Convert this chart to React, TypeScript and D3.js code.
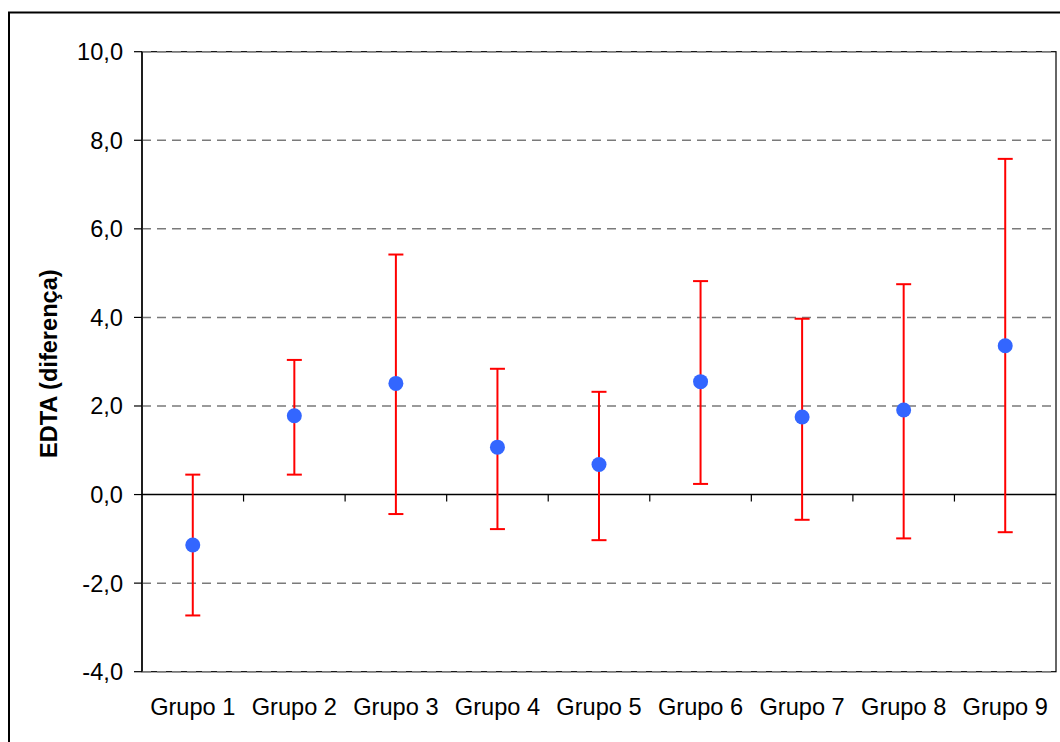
import React from "react";
import * as d3 from "d3";

// Group labels along the category axis
const categories = ["Grupo 1", "Grupo 2", "Grupo 3", "Grupo 4", "Grupo 5", "Grupo 6", "Grupo 7", "Grupo 8", "Grupo 9"];
// Mean difference per group
const means = [-1.14, 1.78, 2.51, 1.07, 0.68, 2.55, 1.75, 1.91, 3.36];
// Upper and lower limits of each interval
const upper = [0.45, 3.04, 5.42, 2.84, 2.32, 4.82, 3.97, 4.75, 7.58];
const lower = [-2.73, 0.45, -0.44, -0.78, -1.03, 0.24, -0.57, -0.99, -0.85];
// Value-axis ticks
const yTicks = [-4, -2, 0, 2, 4, 6, 8, 10];
const yTitle = "EDTA (diferença)";

const W = 1060;
const H = 742;
const plot = { left: 142, right: 1056, top: 51.7, bottom: 671.7 };
const FONT = "'Liberation Sans', Arial, Helvetica, sans-serif";
const FS = 23.6;

const locale = d3.formatLocale({
  decimal: ",",
  thousands: ".",
  grouping: [3],
  currency: ["", ""],
  minus: "-",
});
const fmt = locale.format(".1f");

export default function App() {
  const x = d3
    .scaleBand<string>()
    .domain(categories)
    .range([plot.left, plot.right])
    .paddingInner(0)
    .paddingOuter(0);
  const y = d3.scaleLinear().domain([-4, 10]).range([plot.bottom, plot.top]);
  const bw = x.bandwidth();
  const y0 = y(0);
  const cap = 7.5;

  return (
    <svg
      width={W}
      height={H}
      style={{ position: "absolute", left: 0, top: 0, background: "#fff" }}
    >
      {/* chart frame */}
      <rect x={9} y={12.5} width={1200} height={900} fill="#fff" stroke="#000" strokeWidth={2} />

      {/* plot area border */}
      <rect
        x={plot.left}
        y={plot.top}
        width={plot.right - plot.left}
        height={plot.bottom - plot.top}
        fill="#fff"
        stroke="#000"
        strokeWidth={1.2}
      />

      {/* dashed gridlines */}
      {yTicks
        .filter((t) => t !== 0)
        .map((t) => (
          <line
            key={"g" + t}
            x1={plot.left}
            x2={plot.right}
            y1={y(t)}
            y2={y(t)}
            stroke="#7a7a7a"
            strokeWidth={1.5}
            strokeDasharray="9,6"
          />
        ))}

      {/* zero line with category ticks */}
      <line x1={plot.left} x2={plot.right} y1={y0} y2={y0} stroke="#000" strokeWidth={1.4} />
      {d3.range(1, categories.length).map((i) => {
        const bx = plot.left + i * bw;
        return <line key={"xt" + i} x1={bx} x2={bx} y1={y0} y2={y0 + 7} stroke="#000" strokeWidth={1.2} />;
      })}

      {/* value axis */}
      <line x1={plot.left} x2={plot.left} y1={plot.top} y2={plot.bottom} stroke="#000" strokeWidth={1.4} />
      {yTicks.map((t) => (
        <g key={"yt" + t}>
          <line x1={plot.left - 8} x2={plot.left} y1={y(t)} y2={y(t)} stroke="#000" strokeWidth={1.2} />
          <text
            x={plot.left - 19}
            y={y(t)}
            dy="0.36em"
            textAnchor="end"
            fontFamily={FONT}
            fontSize={FS}
            fill="#000"
          >
            {fmt(t)}
          </text>
        </g>
      ))}

      {/* error bars */}
      {categories.map((c, i) => {
        const cx = (x(c) as number) + bw / 2;
        return (
          <g key={"e" + c} stroke="#ff0000" strokeWidth={2}>
            <line x1={cx} x2={cx} y1={y(upper[i])} y2={y(lower[i])} />
            <line x1={cx - cap} x2={cx + cap} y1={y(upper[i])} y2={y(upper[i])} />
            <line x1={cx - cap} x2={cx + cap} y1={y(lower[i])} y2={y(lower[i])} />
          </g>
        );
      })}

      {/* means */}
      {categories.map((c, i) => (
        <circle key={"m" + c} cx={(x(c) as number) + bw / 2} cy={y(means[i])} r={7.5} fill="#3366ff" />
      ))}

      {/* category labels */}
      {categories.map((c) => (
        <text
          key={"l" + c}
          x={(x(c) as number) + bw / 2}
          y={715}
          textAnchor="middle"
          fontFamily={FONT}
          fontSize={FS}
          fill="#000"
        >
          {c}
        </text>
      ))}

      {/* value-axis title */}
      <text
        transform={`translate(57,${(plot.top + plot.bottom) / 2 + 2}) rotate(-90)`}
        textAnchor="middle"
        fontFamily={FONT}
        fontSize={FS}
        fontWeight="bold"
        fill="#000"
      >
        {yTitle}
      </text>
    </svg>
  );
}
